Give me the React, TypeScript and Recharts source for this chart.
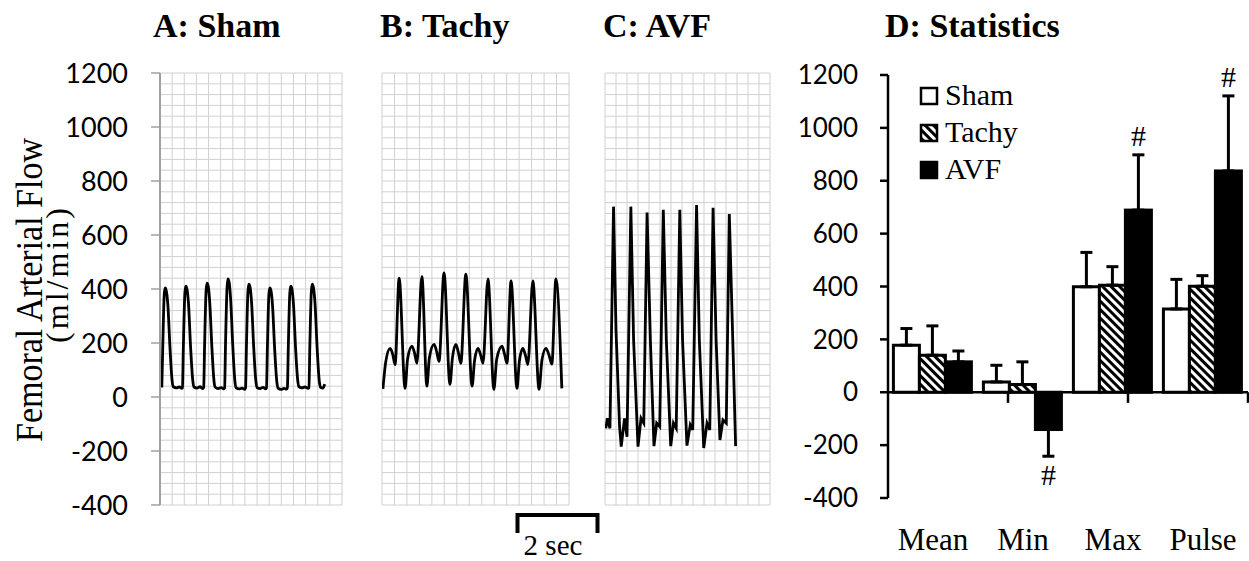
import React from 'react'
import { LineChart, Line, XAxis, YAxis, CartesianGrid, BarChart, Bar, ErrorBar, ReferenceLine } from 'recharts'

// femoral flow traces (time in sec, flow in ml/min)
const shamT = [
  0.06, 0.09, 0.14, 0.17, 0.21, 0.26, 0.33, 0.40, 0.44, 0.54, 0.64, 0.72,
  0.74, 0.77, 0.82, 0.85, 0.89, 0.94, 1.01, 1.08, 1.12, 1.22, 1.32, 1.41,
  1.44, 1.47, 1.52, 1.55, 1.59, 1.64, 1.71, 1.78, 1.82, 1.92, 2.02, 2.10,
  2.13, 2.16, 2.21, 2.24, 2.28, 2.33, 2.40, 2.47, 2.51, 2.61, 2.71, 2.79,
  2.82, 2.85, 2.90, 2.93, 2.97, 3.02, 3.09, 3.16, 3.20, 3.30, 3.40, 3.48,
  3.51, 3.54, 3.59, 3.62, 3.66, 3.71, 3.78, 3.85, 3.89, 3.99, 4.09, 4.17,
  4.20, 4.23, 4.28, 4.31, 4.35, 4.40, 4.47, 4.54, 4.58, 4.68, 4.78, 4.88,
  4.91, 4.94, 4.99, 5.02, 5.06, 5.11, 5.18, 5.25, 5.29, 5.37, 5.43,
]
const shamV = [
  35, 180, 380, 404, 392, 340, 180, 60, 38, 34, 37, 32,
  34, 185, 385, 411, 399, 345, 182, 62, 37, 33, 38, 31,
  35, 190, 395, 422, 410, 350, 185, 60, 36, 31, 35, 30,
  33, 195, 405, 437, 424, 360, 188, 58, 34, 30, 33, 28,
  34, 190, 392, 418, 406, 348, 182, 60, 35, 31, 36, 30,
  33, 182, 380, 404, 393, 338, 178, 58, 33, 28, 32, 29,
  35, 186, 386, 411, 400, 344, 180, 62, 38, 34, 37, 32,
  34, 190, 392, 418, 405, 348, 182, 60, 36, 33, 48,
]

const tachyT = [
  0.03, 0.12, 0.26, 0.34, 0.42, 0.55, 0.74, 0.82, 0.96, 1.04, 1.12, 1.28,
  1.44, 1.52, 1.67, 1.75, 1.83, 1.99, 2.18, 2.26, 2.37, 2.45, 2.53, 2.69,
  2.89, 2.97, 3.08, 3.16, 3.24, 3.40, 3.59, 3.68, 3.85, 3.93, 4.01, 4.14,
  4.33, 4.41, 4.52, 4.60, 4.68, 4.84, 5.04, 5.13, 5.26, 5.36, 5.45, 5.58, 5.77,
]
const tachyV = [
  30, 130, 180, 160, 120, 440, 32, 140, 188, 165, 125, 447,
  40, 145, 195, 170, 132, 460, 47, 145, 195, 165, 125, 455,
  40, 135, 180, 158, 125, 437, 28, 140, 188, 160, 125, 430,
  32, 135, 180, 155, 120, 430, 28, 135, 180, 155, 122, 437, 32,
]

const avfT = [
  0.03, 0.085, 0.18, 0.31, 0.40, 0.53, 0.59, 0.71, 0.80, 0.94, 1.04, 1.17,
  1.20, 1.31, 1.41, 1.53, 1.65, 1.78, 1.88, 1.99, 2.12, 2.23, 2.39, 2.49,
  2.59, 2.72, 2.82, 2.98, 3.10, 3.19, 3.33, 3.43, 3.59, 3.71, 3.81, 3.93,
  4.04, 4.18, 4.29, 4.41, 4.52, 4.66, 4.75,
]
const avfV = [
  -116, -79, -116, 705, 248, -110, -184, -79, -147, 705, 211, -110,
  -184, -79, -97, 683, 211, -182, -97, -110, 693, 211, -182, -97,
  -116, 693, 211, -180, -103, -122, 711, 211, -189, -97, -122, 701,
  211, -159, -85, -97, 678, 160, -182,
]

// panel D statistics
const statCats = ['Mean', 'Min', 'Max', 'Pulse']
const shamMean = [178, 39, 399, 315]
const tachyMean = [140, 29, 405, 401]
const avfMean = [115, -141, 689, 837]
const shamErr = [63, 63, 130, 112]
const tachyErr = [111, 86, 70, 40]
const avfErr = [41, 101, 209, 284]
const avfSig = ['', '#', '#', '#']

const yTicks = [-400, -200, 0, 200, 400, 600, 800, 1000, 1200]
const separators = [1, 2, 3]

// chart-paper grid: 40 ml/min rows, 0.4 s columns
const gridY = Array.from({ length: 41 }, (_, i) => -400 + i * 40)
const gridX = Array.from({ length: 16 }, (_, i) => +(i * 0.4).toFixed(1))

const SERIF = '"Liberation Serif", "Times New Roman", serif'
const SANS = 'Lato, "Liberation Sans", sans-serif'

const toRows = (ts: number[], vs: number[]) => ts.map((t, i) => ({ t, v: vs[i] }))

// one-sided error: up for positive bars, down for negative ones
const errPair = (v: number, e: number) => (v >= 0 ? [0, e] : [e, 0])

const statData = statCats.map((cat, i) => ({
  cat,
  sham: shamMean[i],
  tachy: tachyMean[i],
  avf: avfMean[i],
  shamE: errPair(shamMean[i], shamErr[i]),
  tachyE: errPair(tachyMean[i], tachyErr[i]),
  avfE: errPair(avfMean[i], avfErr[i]),
  sig: avfSig[i],
}))

function WavePanel({ data, left, width, showAxis, curve }: any) {
  return (
    <div style={{ position: 'absolute', left, top: 0 }}>
      <LineChart
        width={width}
        height={561}
        data={data}
        margin={{ top: 73, right: 2, bottom: 56, left: showAxis ? 0 : 2 }}
      >
        <CartesianGrid stroke="#d0d0d0" strokeWidth={1} yAxisId="grid" />
        <XAxis type="number" dataKey="t" domain={[0, 6]} ticks={gridX} interval={0} hide allowDataOverflow />
        {showAxis ? (
          <YAxis
            type="number"
            domain={[-400, 1200]}
            ticks={yTicks}
            interval={0}
            allowDataOverflow
            width={160}
            axisLine={{ stroke: '#a0a0a0', strokeWidth: 2 }}
            tickLine={{ stroke: '#a0a0a0', strokeWidth: 1.5 }}
            tickSize={9}
            tickMargin={23}
            tick={{ fontFamily: SANS, fontSize: 27, fill: '#000' }}
          />
        ) : (
          <YAxis type="number" domain={[-400, 1200]} hide width={0} allowDataOverflow />
        )}
        <YAxis
          yAxisId="grid"
          type="number"
          domain={[-400, 1200]}
          ticks={gridY}
          interval={0}
          hide
          width={0}
          allowDataOverflow
        />
        <Line
          dataKey="v"
          type={curve}
          stroke="#000"
          strokeWidth={2.8}
          dot={false}
          isAnimationActive={false}
        />
      </LineChart>
    </div>
  )
}

function AvfShape(props: any) {
  const { x, y, width, height, payload } = props
  const top = Math.min(y, y + height)
  const h = Math.abs(height)
  const up = payload.avf >= 0
  const k = h / Math.abs(payload.avf)
  const capY = up ? top - payload.avfE[1] * k : top + h + payload.avfE[0] * k
  return (
    <g>
      <rect x={x} y={top} width={width} height={h} fill="#000" stroke="#000" strokeWidth={3} />
      {payload.sig ? (
        <text
          x={x + width / 2}
          y={up ? capY - 9 : capY + 29}
          textAnchor="middle"
          fontFamily={SERIF}
          fontSize={30}
          fill="#000"
        >
          {payload.sig}
        </text>
      ) : null}
    </g>
  )
}

function StatsPanel() {
  return (
    <div style={{ position: 'absolute', left: 780, top: 0 }}>
      <BarChart
        width={469}
        height={561}
        data={statData}
        margin={{ top: 75, right: 1, bottom: 0, left: 0 }}
        barCategoryGap="6%"
        barGap={0}
      >
        <defs>
          <pattern id="tachyStripes" patternUnits="userSpaceOnUse" width="6" height="6" patternTransform="rotate(-45)">
            <rect width="6" height="6" fill="#fff" />
            <rect width="3" height="6" fill="#000" />
          </pattern>
        </defs>
        <XAxis
          dataKey="cat"
          height={63}
          axisLine={false}
          tickLine={false}
          tickSize={0}
          tickMargin={30}
          interval={0}
          tick={{ fontFamily: SERIF, fontSize: 31, fill: '#000' }}
        />
        <XAxis xAxisId="sep" type="number" domain={[0, 4]} hide />
        <YAxis
          type="number"
          domain={[-400, 1200]}
          ticks={yTicks}
          interval={0}
          width={108}
          axisLine={{ stroke: '#000', strokeWidth: 2.5 }}
          tickLine={{ stroke: '#000', strokeWidth: 2.5 }}
          tickSize={8}
          tickMargin={22}
          tick={{ fontFamily: SANS, fontSize: 26, fill: '#000' }}
        />
        <Bar dataKey="sham" fill="#fff" stroke="#000" strokeWidth={3} isAnimationActive={false}>
          <ErrorBar dataKey="shamE" direction="y" width={6} stroke="#000" strokeWidth={3} />
        </Bar>
        <Bar dataKey="tachy" fill="url(#tachyStripes)" stroke="#000" strokeWidth={3} isAnimationActive={false}>
          <ErrorBar dataKey="tachyE" direction="y" width={6} stroke="#000" strokeWidth={3} />
        </Bar>
        <Bar dataKey="avf" fill="#000" stroke="#000" strokeWidth={3} shape={AvfShape} isAnimationActive={false}>
          <ErrorBar dataKey="avfE" direction="y" width={6} stroke="#000" strokeWidth={3} />
        </Bar>
        <ReferenceLine y={0} stroke="#000" strokeWidth={2.5} />
        {separators.map(s => (
          <ReferenceLine
            key={s}
            xAxisId="sep"
            segment={[{ x: s, y: 0 }, { x: s, y: -40 }]}
            stroke="#000"
            strokeWidth={2.5}
          />
        ))}
      </BarChart>
    </div>
  )
}

function Overlay() {
  const legend = [
    { name: 'Sham', fill: '#fff' },
    { name: 'Tachy', fill: 'url(#legendStripes)' },
    { name: 'AVF', fill: '#000' },
  ]
  return (
    <svg width={1249} height={561} style={{ position: 'absolute', left: 0, top: 0, pointerEvents: 'none' }}>
      <defs>
        <pattern id="legendStripes" patternUnits="userSpaceOnUse" width="6" height="6" patternTransform="rotate(-45)">
          <rect width="6" height="6" fill="#fff" />
          <rect width="3" height="6" fill="#000" />
        </pattern>
      </defs>
      <g fontFamily={SERIF} fontWeight="bold" fontSize={34} fill="#000">
        <text x={153} y={37}>A: Sham</text>
        <text x={380} y={37}>B: Tachy</text>
        <text x={603} y={37}>C: AVF</text>
        <text x={885} y={37}>D: Statistics</text>
      </g>
      <g fontFamily={SERIF} fill="#000" textAnchor="middle">
        <text fontSize={34} transform="translate(42,290) rotate(-90) scale(1,1.1)">Femoral Arterial Flow</text>
        <text fontSize={32} letterSpacing={3} transform="translate(68,274) rotate(-90)">(ml/min)</text>
      </g>
      {legend.map((l, i) => (
        <g key={l.name}>
          <rect x={921} y={88 + i * 37} width={16} height={16} fill={l.fill} stroke="#000" strokeWidth={2.5} />
          <text x={945} y={105 + i * 37} fontFamily={SERIF} fontSize={30} fill="#000">{l.name}</text>
        </g>
      ))}
      <path d="M517.5 533 V515 H597.5 V533" fill="none" stroke="#000" strokeWidth={4} />
      <text x={553} y={555} textAnchor="middle" fontFamily={SERIF} fontSize={29} fill="#000">2 sec</text>
    </svg>
  )
}

export default function App() {
  return (
    <div style={{ position: 'relative', width: 1249, height: 561, background: '#fff', overflow: 'hidden' }}>
      <style>{'body{margin:0}'}</style>
      <WavePanel data={toRows(shamT, shamV)} left={0} width={344} showAxis curve="monotone" />
      <WavePanel data={toRows(tachyT, tachyV)} left={380} width={191} showAxis={false} curve="monotone" />
      <WavePanel data={toRows(avfT, avfV)} left={603} width={169} showAxis={false} curve="linear" />
      <StatsPanel />
      <Overlay />
    </div>
  )
}
